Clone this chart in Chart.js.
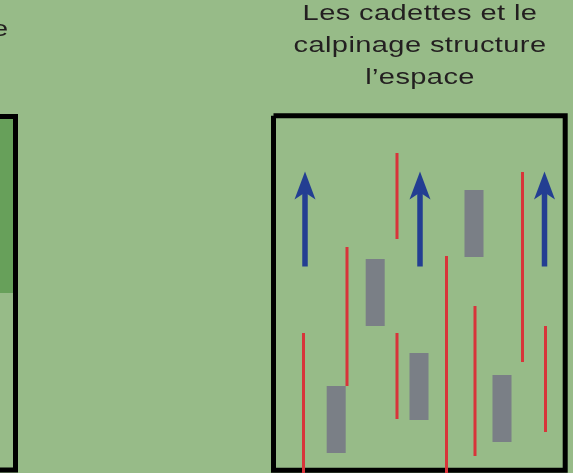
<!DOCTYPE html>
<html>
<head>
<meta charset="utf-8">
<script src="https://cdn.jsdelivr.net/npm/chart.js@4/dist/chart.umd.min.js"></script>
<style>
  html,body{margin:0;padding:0;background:#97bb88;overflow:hidden;}
  #wrap{position:relative;width:573px;height:473px;}
  #wrap canvas{position:absolute;left:0;top:0;}
  .lbl{position:absolute;font-family:"Liberation Sans",Arial,sans-serif;font-size:22px;
       line-height:32px;color:#231f20;letter-spacing:0.3px;white-space:nowrap;}
  #title{left:269.5px;width:300px;top:-3px;text-align:center;transform:scaleX(1.32);transform-origin:50% 0;}
  #prev{left:-8px;top:13px;transform:scaleX(1.32);transform-origin:0 0;}
</style>
</head>
<body>
<div id="wrap">
  <canvas id="c"></canvas>
  <div class="lbl" id="prev">e</div>
  <div class="lbl" id="title">Les cadettes et le<br>calpinage structure<br>l’espace</div>
</div>
<script>
// ---- diagram values (drawing units = picture pixels, y grows downward) ----
const frameLeftX   = [-10, 15.5, 15.5, -10];
const frameLeftY   = [116.5, 116.5, 470, 470];
const frameRightX  = [273.5, 565.2, 565.2, 273.5, 273.5];
const frameRightY  = [115.8, 115.8, 470.2, 470.2, 115.8];
const zoneX        = [-5, 13, 13, -5];
const zoneY        = [118.5, 118.5, 293, 293];

const arrowX       = [305, 420, 544.5];
const arrowTip     = 171.5;
const arrowFoot    = 266.5;

const redX         = [303.5, 347, 397, 397, 446.5, 475, 522.5, 545.5];
const redFrom      = [333, 247, 153, 333, 256, 306, 172, 326];
const redTo        = [473, 386, 239, 419, 473, 456, 362, 432];

const grayX        = [336.2, 375.2, 419, 474, 502];
const grayFrom     = [386, 259, 353, 190, 375];
const grayTo       = [453, 326, 420, 257, 442];

// ---- styles ----
const C_ZONE = '#67a05a', C_FRAME = '#000000', C_RED = '#d8343a',
      C_GRAY = '#7a7f86', C_BLUE = '#233e92';
const HEAD_HALF = 10.5, HEAD_BACK = 28, HEAD_NOTCH = 21;

const pts = (xs, ys)=> xs.map((x,i)=>({x, y: ys[i]}));
const seg = (color, width, data, extra)=> Object.assign({
  type:'scatter', showLine:true, data, borderColor:color, backgroundColor:color,
  borderWidth:width, pointRadius:0, borderCapStyle:'butt', borderJoinStyle:'miter',
  fill:false, clip:false
}, extra||{});

// painting order: first = bottom
const layers = [];
layers.push(seg(C_ZONE, 0, pts(zoneX, zoneY), {fill:'shape'}));
layers.push(seg(C_FRAME, 5, pts(frameLeftX, frameLeftY)));
layers.push(seg(C_FRAME, 5, pts(frameRightX, frameRightY)));
grayX.forEach((x,i)=> layers.push(seg(C_GRAY, 19, [{x, y:grayFrom[i]}, {x, y:grayTo[i]}])));
redX.forEach((x,i)=> layers.push(seg(C_RED, 3, [{x, y:redFrom[i]}, {x, y:redTo[i]}])));
arrowX.forEach(x=>{
  layers.push(seg(C_BLUE, 5.5, [{x, y:arrowFoot}, {x, y:arrowTip + HEAD_NOTCH - 2}]));
  layers.push(seg(C_BLUE, 0, [
    {x, y:arrowTip},
    {x:x+HEAD_HALF, y:arrowTip+HEAD_BACK},
    {x, y:arrowTip+HEAD_NOTCH},
    {x:x-HEAD_HALF, y:arrowTip+HEAD_BACK},
    {x, y:arrowTip}
  ], {fill:'shape'}));
});

// Chart.js paints dataset 0 last (on top), so hand them over reversed
new Chart(document.getElementById('c'), {
  type:'scatter',
  data:{datasets: layers.slice().reverse()},
  options:{
    responsive:true, maintainAspectRatio:false, animation:false,
    layout:{padding:0},
    plugins:{legend:{display:false}, tooltip:{enabled:false}, title:{display:false}},
    events:[],
    scales:{
      x:{type:'linear', min:0, max:573, display:false},
      y:{type:'linear', min:0, max:473, reverse:true, display:false}
    }
  }
});
</script>
</body>
</html>
